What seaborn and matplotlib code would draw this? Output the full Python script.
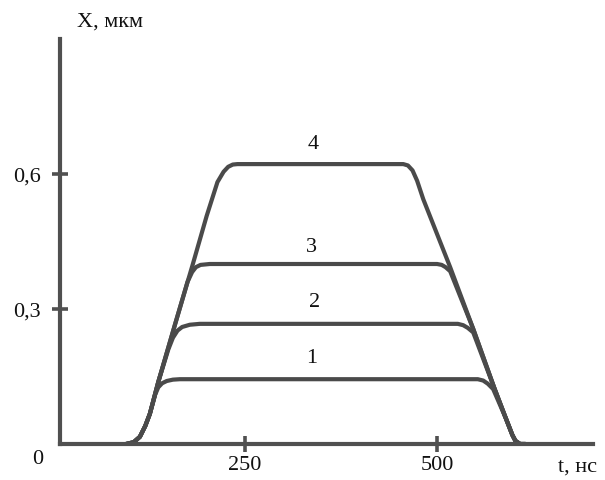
import numpy as np
import pandas as pd
import matplotlib
matplotlib.use("Agg")
import matplotlib.pyplot as plt
import seaborn as sns

# ---- data (t in ns, X in micrometres) ----
t1 = [95, 105, 113, 120, 126, 133, 137, 142, 148, 156, 165, 553, 560, 566, 573, 590, 598, 602, 608, 615]
x1 = [0, 0.004, 0.016, 0.04, 0.067, 0.11, 0.126, 0.135, 0.14, 0.143, 0.144, 0.144, 0.141, 0.134, 0.122, 0.055, 0.02, 0.007, 0, 0]

t2 = [95, 105, 113, 120, 126, 137, 150, 156, 162, 168, 178, 191, 527, 534, 540, 547, 575, 590, 598, 602, 608, 615]
x2 = [0, 0.004, 0.016, 0.04, 0.067, 0.138, 0.21, 0.236, 0.252, 0.26, 0.265, 0.267, 0.267, 0.264, 0.258, 0.248, 0.122, 0.055, 0.02, 0.007, 0, 0]

t3 = [95, 105, 113, 120, 126, 137, 159, 175, 181, 186, 192, 204, 500, 506, 511, 517, 547, 575, 590, 598, 602, 608, 615]
x3 = [0, 0.004, 0.016, 0.04, 0.067, 0.138, 0.267, 0.36, 0.382, 0.393, 0.398, 0.40, 0.40, 0.398, 0.393, 0.384, 0.256, 0.122, 0.055, 0.02, 0.007, 0, 0]

t4 = [95, 105, 113, 120, 126, 137, 159, 182, 200, 214, 222, 228, 234, 240, 456, 462, 468, 474, 482, 517, 547, 575, 590, 598, 602, 608, 615]
x4 = [0, 0.004, 0.016, 0.04, 0.067, 0.138, 0.267, 0.40, 0.507, 0.582, 0.605, 0.616, 0.621, 0.622, 0.622, 0.619, 0.608, 0.585, 0.544, 0.393, 0.256, 0.122, 0.055, 0.02, 0.007, 0, 0]

curve_names = ["1", "2", "3", "4"]
curve_label_t = [337, 341, 337, 339]
curve_label_x = [0.193, 0.316, 0.438, 0.667]

x_ticks = [250, 500]
x_tick_labels = ["250", "500"]
y_ticks = [0.3, 0.6]
y_tick_labels = ["0,3", "0,6"]

# ---- build a long table ----
frames = []
for name, tt, xx in zip(curve_names, [t1, t2, t3, t4], [x1, x2, x3, x4]):
    frames.append(pd.DataFrame({"t": tt, "X": xx, "curve": name,
                                "order": np.arange(len(tt))}))
df = pd.concat(frames, ignore_index=True)

sns.set_style("white")
plt.rcParams["font.family"] = ["Liberation Serif", "DejaVu Serif"]

W, H = 605, 481
fig = plt.figure(figsize=(W / 100, H / 100), dpi=100)
ax_left, ax_right, ax_top, ax_bottom = 60, 593, 40, 445
ax = fig.add_axes([ax_left / W, (H - ax_bottom) / H,
                   (ax_right - ax_left) / W, (ax_bottom - ax_top) / H])

line_color = "#4a4a4a"
sns.lineplot(data=df, x="t", y="X", hue="curve", units="curve",
             estimator=None, sort=False, legend=False,
             palette=[line_color] * 4, linewidth=3.0, ax=ax)

ax.set_xlim(9, 703)
ax.set_ylim(0, 0.90)

for s in ["top", "right"]:
    ax.spines[s].set_visible(False)
for s in ["left", "bottom"]:
    ax.spines[s].set_linewidth(3.0)
    ax.spines[s].set_color("#505050")

ax.set_xticks(x_ticks)
ax.set_xticklabels(x_tick_labels)
ax.set_yticks(y_ticks)
ax.set_yticklabels(y_tick_labels)
ax.tick_params(axis="both", which="major", bottom=True, left=True,
               direction="inout", length=12, width=2.6,
               color="#505050", labelsize=16, labelcolor="#111111")
ax.tick_params(axis="x", pad=2)
ax.tick_params(axis="y", pad=8)
ax.set_xlabel("")
ax.set_ylabel("")
ax.grid(False)

for name, lt, lx in zip(curve_names, curve_label_t, curve_label_x):
    ax.text(lt, lx, name, ha="center", va="center", fontsize=16, color="#111111")

fig.text(77 / W, 1 - 22 / H, "X, мкм", ha="left", va="center", fontsize=16, color="#111111")
fig.text(558 / W, 1 - 467 / H, "t, нс", ha="left", va="center", fontsize=16, color="#111111")
fig.text(38 / W, 1 - 460 / H, "0", ha="center", va="center", fontsize=16, color="#111111")

fig.savefig("out.png", dpi=100)
